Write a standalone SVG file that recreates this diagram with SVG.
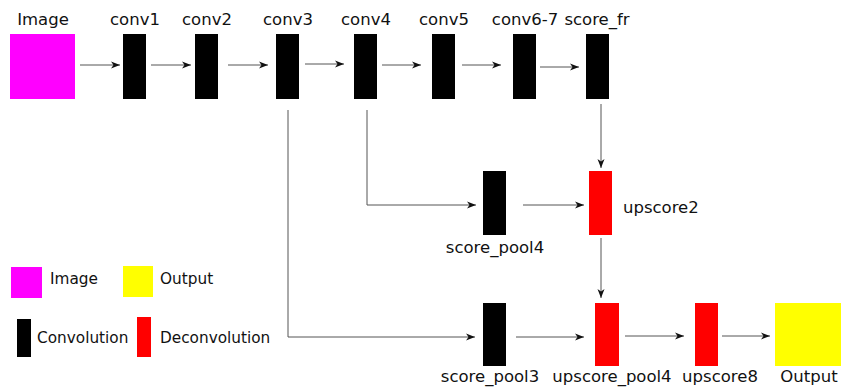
<svg xmlns="http://www.w3.org/2000/svg" width="841" height="387" viewBox="0 0 841 387">
<defs>
<marker id="ah" markerUnits="userSpaceOnUse" markerWidth="10" markerHeight="8" refX="9" refY="4" orient="auto">
<path d="M0,0.5 L9,4 L0,7.5 L2.5,4 Z" fill="#111"/>
</marker>
<style>
text{font-family:"DejaVu Sans",sans-serif;font-size:16.5px;fill:#111}
.lg{font-size:15.3px}
.conv{fill:#000}
.deconv{fill:#ff0000}
.img{fill:#ff00ff}
.out{fill:#ffff00}
.c line,.c polyline{stroke:#555;stroke-width:1;fill:none}
.m{marker-end:url(#ah)}
</style>
</defs>
<rect width="841" height="387" fill="#fff"/>
<g id="image"><rect class="img" x="10" y="34" width="65" height="65"/><text x="43" y="25" text-anchor="middle">Image</text></g>
<g id="conv1"><rect class="conv" x="123" y="34" width="23" height="65"/><text x="135" y="25" text-anchor="middle">conv1</text></g>
<g id="conv2"><rect class="conv" x="195" y="34" width="23" height="65"/><text x="207" y="25" text-anchor="middle">conv2</text></g>
<g id="conv3"><rect class="conv" x="276" y="34" width="23" height="65"/><text x="288" y="25" text-anchor="middle">conv3</text></g>
<g id="conv4"><rect class="conv" x="354" y="34" width="23" height="65"/><text x="366" y="25" text-anchor="middle">conv4</text></g>
<g id="conv5"><rect class="conv" x="432" y="34" width="23" height="65"/><text x="444" y="25" text-anchor="middle">conv5</text></g>
<g id="conv6-7"><rect class="conv" x="513" y="34" width="23" height="65"/><text x="525" y="25" text-anchor="middle">conv6-7</text></g>
<g id="score_fr"><rect class="conv" x="586" y="34" width="23" height="65"/><text x="597" y="25" text-anchor="middle">score_fr</text></g>
<g id="score_pool4"><rect class="conv" x="483" y="171" width="23" height="64"/><text x="495" y="253" text-anchor="middle">score_pool4</text></g>
<g id="upscore2"><rect class="deconv" x="589" y="171" width="23" height="64"/><text x="623" y="213">upscore2</text></g>
<g id="score_pool3"><rect class="conv" x="483" y="303" width="23" height="63"/><text x="490" y="382" text-anchor="middle">score_pool3</text></g>
<g id="upscore_pool4"><rect class="deconv" x="595" y="303" width="24" height="63"/><text x="612" y="382" text-anchor="middle">upscore_pool4</text></g>
<g id="upscore8"><rect class="deconv" x="695" y="303" width="23" height="63"/><text x="720" y="382" text-anchor="middle">upscore8</text></g>
<g id="output"><rect class="out" x="775" y="303" width="66" height="63"/><text x="809" y="382" text-anchor="middle">Output</text></g>
<g id="connectors" class="c">
<line class="m" x1="80" y1="65" x2="120" y2="65"/>
<line class="m" x1="151" y1="65" x2="191" y2="65"/>
<line class="m" x1="228" y1="65" x2="268" y2="65"/>
<line class="m" x1="305" y1="64" x2="344" y2="64"/>
<line class="m" x1="382" y1="65" x2="421" y2="65"/>
<line class="m" x1="462" y1="65" x2="501" y2="65"/>
<line class="m" x1="540" y1="67" x2="579" y2="67"/>
<line class="m" x1="601" y1="104" x2="601" y2="168"/>
<polyline class="m" points="367,110 367,205 476,205"/>
<line class="m" x1="523" y1="205" x2="584" y2="205"/>
<polyline class="m" points="288,110 288,337 475,337"/>
<line class="m" x1="516" y1="337" x2="584" y2="337"/>
<line class="m" x1="601" y1="238" x2="601" y2="298"/>
<line class="m" x1="625" y1="336" x2="684" y2="336"/>
<line class="m" x1="722" y1="336" x2="770" y2="336"/>
</g>
<g id="legend">
<rect class="img" x="11" y="267" width="31" height="31"/><text class="lg" x="50" y="284">Image</text>
<rect class="out" x="123" y="266" width="30" height="31"/><text class="lg" x="160" y="284">Output</text>
<rect class="conv" x="17" y="319" width="14" height="38"/><text class="lg" x="37" y="343">Convolution</text>
<rect class="deconv" x="137" y="317" width="14" height="40"/><text class="lg" x="160" y="343">Deconvolution</text>
</g>
</svg>
